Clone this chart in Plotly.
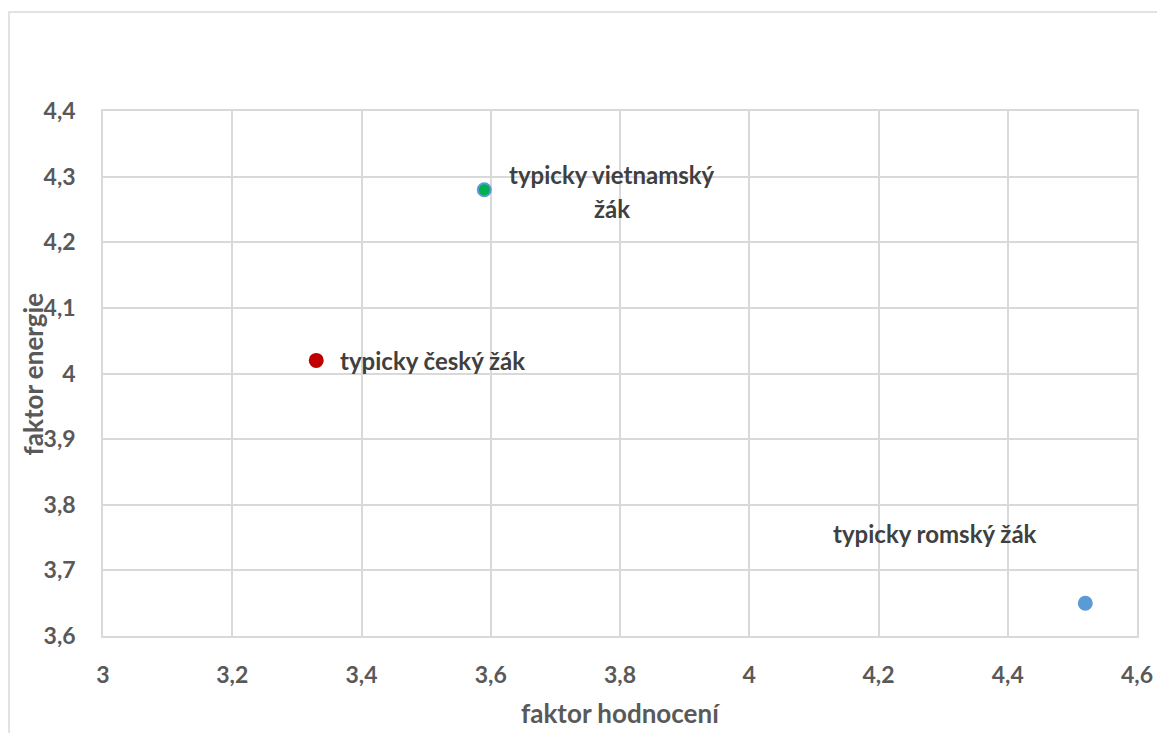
import plotly.graph_objects as go

# data
names = ["typicky český žák", "typicky vietnamský žák", "typicky romský žák"]
faktor_hodnoceni = [3.33, 3.59, 4.52]
faktor_energie = [4.02, 4.28, 3.65]
fill_colors = ["#C00000", "#00B050", "#5B9BD5"]
line_colors = ["#C00000", "#5B9BD5", "#5B9BD5"]

x_ticks = [3, 3.2, 3.4, 3.6, 3.8, 4, 4.2, 4.4, 4.6]
x_ticktext = ["3", "3,2", "3,4", "3,6", "3,8", "4", "4,2", "4,4", "4,6"]
y_ticks = [3.6, 3.7, 3.8, 3.9, 4.0, 4.1, 4.2, 4.3, 4.4]
y_ticktext = ["3,6", "3,7", "3,8", "3,9", "4", "4,1", "4,2", "4,3", "4,4"]

FONT = "Lato"
fig = go.Figure()
fig.add_trace(go.Scatter(
    x=faktor_hodnoceni, y=faktor_energie, mode="markers",
    marker=dict(size=13, color=fill_colors, line=dict(color=line_colors, width=2)),
    hoverinfo="skip", showlegend=False,
))

lbl_font = dict(family=FONT, size=24, color="#404040", weight="bold")
# český
fig.add_annotation(x=faktor_hodnoceni[0], y=faktor_energie[0], text=names[0],
                   xanchor="left", yanchor="middle", xshift=22, yshift=0,
                   showarrow=False, font=lbl_font)
# vietnamský (two lines)
fig.add_annotation(x=faktor_hodnoceni[1], y=faktor_energie[1], text="typicky vietnamský",
                   xanchor="center", yanchor="middle", xshift=128, yshift=15,
                   showarrow=False, font=lbl_font)
fig.add_annotation(x=faktor_hodnoceni[1], y=faktor_energie[1], text="žák",
                   xanchor="center", yanchor="middle", xshift=128, yshift=-19,
                   showarrow=False, font=lbl_font)
# romský
fig.add_annotation(x=faktor_hodnoceni[2], y=faktor_energie[2], text=names[2],
                   xanchor="center", yanchor="middle", xshift=-150, yshift=70,
                   showarrow=False, font=lbl_font)

title_font = dict(family=FONT, size=26, color="#595959", weight="bold")
fig.add_annotation(xref="paper", yref="paper", x=0.5, y=-0.1467, text="faktor hodnocení",
                   xanchor="center", yanchor="middle", showarrow=False, font=title_font)
fig.add_annotation(xref="paper", yref="paper", x=-0.0677, y=0.5, text="faktor energie",
                   textangle=-90, xanchor="center", yanchor="middle", showarrow=False,
                   font=title_font)

fig.add_shape(type="rect", xref="paper", yref="paper",
              x0=-0.0909, x1=1.08, y0=-0.3, y1=1.1886,
              line=dict(color="#D9D9D9", width=1.5), layer="below")

axis_common = dict(showgrid=True, gridcolor="#D9D9D9", gridwidth=1.5,
                   showline=True, linecolor="#D9D9D9", linewidth=1.5, mirror=True,
                   zeroline=False, ticks="", automargin=False,
                   tickfont=dict(family=FONT, size=23, color="#595959", weight="bold"))

fig.update_layout(
    width=1157, height=733,
    margin=dict(l=103, r=20, t=111, b=97),
    paper_bgcolor="white", plot_bgcolor="white",
    xaxis=dict(range=[3, 4.6], tickvals=x_ticks, ticktext=x_ticktext,
               ticklabelstandoff=18, **axis_common),
    yaxis=dict(range=[3.6, 4.4], tickvals=y_ticks, ticktext=y_ticktext,
               ticklabelstandoff=21, **axis_common),
)
fig.write_html(
    "out.html",
    config={"displayModeBar": False},
    post_script="document.body.style.margin='0';document.body.style.overflow='hidden';",
)
